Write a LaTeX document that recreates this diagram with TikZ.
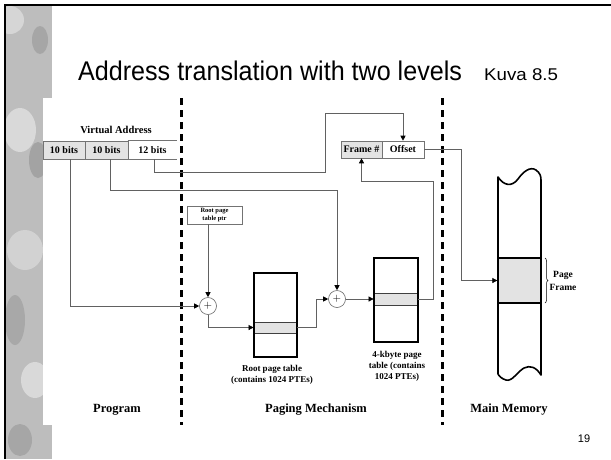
\documentclass[tikz,border=0pt]{standalone}
\usepackage{fontspec}
\setmainfont{Liberation Serif}
\newfontfamily\titlefont{Liberation Sans}
\usetikzlibrary{arrows.meta,decorations.pathreplacing,calc}
\begin{document}
\begin{tikzpicture}[x=1pt,y=-1pt,
  conn/.style={draw=black!62, line width=0.7pt},
  tip/.style={-{Triangle[length=5pt,width=5pt,color=black]}},
  cell/.style={draw=black!55, line width=0.6pt, minimum height=18pt, inner sep=0pt,
    font=\bfseries\fontsize{10}{12}\selectfont},
  tablebox/.style={draw=black, line width=1.7pt, minimum width=43pt, minimum height=84pt, inner sep=0pt},
  entrybox/.style={draw=black!75, fill=gray!22, line width=0.8pt, inner sep=0pt},
  adder/.style={circle, draw=black!60, line width=0.6pt, minimum size=17pt, inner sep=0pt,
    font=\fontsize{11}{11}\selectfont},
  lab/.style={font=\bfseries\fontsize{9}{11}\selectfont, align=center, inner sep=0pt},
  region/.style={font=\bfseries\fontsize{12.5}{14}\selectfont, inner sep=0pt},
  divider/.style={line width=3pt, dash pattern=on 7pt off 5pt}]
\useasboundingbox (0,0) rectangle (611,459);
% background strip
\fill[gray!52] (6,6) rectangle (52,459);
\begin{scope}
\clip (6,6) rectangle (52,459);
\fill[gray!32] (10,20) circle (14);
\fill[gray!70] (40,40) ellipse (8 and 14);
\fill[gray!30] (20,130) ellipse (16 and 22);
\fill[gray!72] (38,160) ellipse (9 and 18);
\fill[gray!35] (25,250) ellipse (18 and 20);
\fill[gray!68] (15,320) ellipse (10 and 25);
\fill[gray!30] (35,380) ellipse (14 and 18);
\fill[gray!70] (20,440) ellipse (12 and 16);
\end{scope}
\fill[white] (43,98) rectangle (611,425);
\fill[white] (52,6) rectangle (611,98);
\fill[white] (52,425) rectangle (611,459);
\draw[line width=2.5pt] (5,459) -- (5,5) -- (611,5);
% title
\node[anchor=base west, inner sep=0pt, font=\titlefont\fontsize{27}{27}\selectfont] (title) at (78,80) {\scalebox{0.93}[1]{Address translation with two levels}};
\node[anchor=base west, inner sep=0pt, font=\titlefont\fontsize{17}{17}\selectfont] (kuva) at (484,80) {\scalebox{1.1}[1]{Kuva 8.5}};
\node[anchor=base, inner sep=0pt, font=\titlefont\fontsize{11}{11}\selectfont] (pnum) at (584,442) {19};
% dividers
\draw[divider] (181,98) -- (181,425);
\draw[divider] (442,98) -- (442,425);
% virtual address
\node[font=\bfseries\fontsize{10.5}{12}\selectfont, inner sep=0pt] (vat) at (116,130) {Virtual Address};
\node[cell, fill=gray!22, minimum width=42pt] (va1) at (64,150) {10 bits};
\node[cell, fill=gray!22, minimum width=43pt] (va2) at (106.5,150) {10 bits};
\node[cell, draw=none, minimum width=49pt] (va3) at (152.5,150) {12 bits};
\draw[draw=black!55, line width=0.6pt] (va3.north west) -- (va3.north east) (va3.south west) -- (va3.south east);
% frame / offset
\node[cell, fill=gray!22, minimum width=41pt, minimum height=17pt] (frame) at (361.5,149.5) {Frame \#};
\node[cell, minimum width=42pt, minimum height=17pt] (offset) at (403,149.5) {Offset};
% root ptr
\node[cell, minimum width=55pt, font=\bfseries\fontsize{6.5}{8}\selectfont, align=center] (rptr) at (214.5,215) {Root page\\table ptr};
% adders
\node[adder] (p1) at (208,306) {$+$};
\node[adder] (p2) at (337,299) {$+$};
% tables
\node[entrybox, minimum width=43pt, minimum height=11pt] (rpte) at (275.5,327.5) {};
\node[tablebox] (rpt) at (275.5,315) {};
\node[entrybox, minimum width=44pt, minimum height=12pt] (kpte) at (396,299) {};
\node[tablebox, minimum width=44pt] (kpt) at (396,300) {};
\node[lab] (rptl) at (272,375) {Root page table\\(contains 1024 PTEs)};
\node[lab] (kptl) at (397,366) {4-kbyte page\\table (contains\\1024 PTEs)};
% main memory
\node[entrybox, draw=black, line width=1.3pt, minimum width=43pt, minimum height=45pt] (pf) at (519.5,280.5) {};
\draw[line width=1.6pt, line join=round]
  (498,177) .. controls (504,186) and (512,187) .. (518,179)
  .. controls (523,172) and (530,166) .. (536,170)
  .. controls (540,173) and (541,176) .. (541,180)
  -- (541,375)
  .. controls (536,367) and (530,365) .. (524,368)
  .. controls (517,372) and (512,382) .. (506,380)
  .. controls (502,379) and (499,376) .. (498,374) -- cycle;
\draw[decorate, decoration={brace, amplitude=3pt}, line width=0.5pt] (545,258) -- (545,303);
\node[font=\bfseries\fontsize{9.5}{13}\selectfont, align=center, inner sep=0pt] (pft) at (563,281) {Page\\Frame};
% region labels
\node[region] (lprog) at (117,410) {Program};
\node[region] (lpag) at (316,410) {Paging Mechanism};
\node[region] (lmem) at (509,410) {Main Memory};
% connectors
\draw[conn, tip] ([xshift=6pt]va1.south) |- (p1);
\draw[conn, tip] ([xshift=3.5pt]va2.south) -- ++(0,31) -| (p2);
\coordinate (c3) at (325,113);
\draw[conn, tip] ([xshift=1.5pt]va3.south) -- ++(0,13) -| (c3) -| (offset);
\draw[conn, tip] (rptr.south -| p1) -- (p1);
\draw[conn, tip] (p1) |- (rpte.west);
\draw[conn, tip] (rpte.east) -- ++(19,0) |- (p2);
\draw[conn, tip] (p2) -- (kpte.west);
\draw[conn, tip] (kpte.east) -- ++(15,0) -- ++(0,-118) -| (frame);
\draw[conn, tip] (offset.east) -- ++(37,0) |- (pf.west);
\end{tikzpicture}
\end{document}
